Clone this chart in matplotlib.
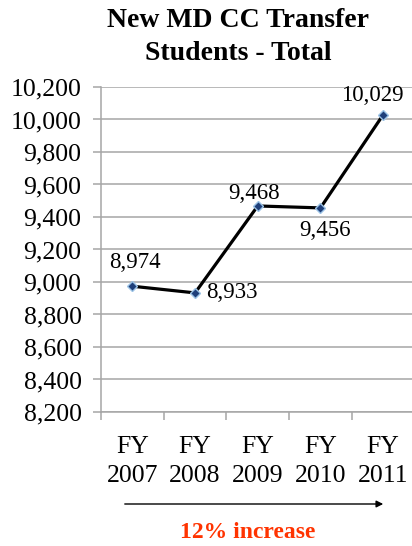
import matplotlib
matplotlib.use("Agg")
import matplotlib.pyplot as plt
from matplotlib.ticker import FuncFormatter, FixedLocator

categories = ["FY\n2007", "FY\n2008", "FY\n2009", "FY\n2010", "FY\n2011"]
values = [8974, 8933, 9468, 9456, 10029]
yticks = list(range(8200, 10201, 200))
title = "New MD CC Transfer\nStudents - Total"
note = "12% increase"
# label offsets in pixels (dx, dy)
label_offsets = [(3, 24), (37, 0), (-4, 12), (5, -23), (-11, 19)]

W, H = 412, 546
fig = plt.figure(figsize=(W / 100, H / 100), dpi=100)
serif = ["Liberation Serif", "DejaVu Serif"]

L, R, B, T = 101, 414.5, 412, 87
ax = fig.add_axes([L / W, 1 - B / H, (R - L) / W, (B - T) / H])
x = list(range(len(categories)))
ax.set_xlim(-0.5, len(categories) - 0.5)
ax.set_ylim(yticks[0], yticks[-1])

ax.plot(x, values, color="black", lw=2.3, zorder=3, solid_capstyle="round")
ax.plot(x, values, ls="none", marker="D", ms=5.5, mfc="#1F3F7A", mec="#9CC3E6", mew=1.0, zorder=4)

for xi, v, (dx, dy) in zip(x, values, label_offsets):
    ax.annotate(f"{v:,}", (xi, v), xytext=(dx, dy), textcoords="offset pixels",
                ha="center", va="center", fontsize=16.5, family=serif, color="black")

ax.yaxis.set_major_locator(FixedLocator(yticks))
ax.yaxis.set_major_formatter(FuncFormatter(lambda v, p: f"{int(v):,}"))
ax.grid(axis="y", color="#A6A6A6", lw=1.1)
ax.set_axisbelow(True)

ax.set_xticks(x)
ax.set_xticklabels(categories, fontsize=18.5, family=serif, linespacing=1.42)
ax.set_xticks([i - 0.5 for i in range(len(categories) + 1)], minor=True)
ax.tick_params(axis="x", which="major", length=0, pad=17)
ax.tick_params(axis="x", which="minor", length=6, color="#A6A6A6", width=1.1, direction="out")
ax.tick_params(axis="y", length=6, color="#A6A6A6", width=1.1, pad=8)
for lab in ax.get_yticklabels():
    lab.set_fontsize(18.5)
    lab.set_family(serif)

for s in ["top", "right"]:
    ax.spines[s].set_visible(False)
for s in ["left", "bottom"]:
    ax.spines[s].set_color("#A6A6A6")
    ax.spines[s].set_linewidth(1.1)

fig.text(238 / W, 1 - 37 / H, title, ha="center", va="center", fontsize=20,
         fontweight="bold", family=serif, linespacing=1.42)

fig.patches.append(matplotlib.patches.FancyArrowPatch(
    (122 / W, 1 - 504 / H), (386 / W, 1 - 504 / H), transform=fig.transFigure,
    arrowstyle="-|>", mutation_scale=10, color="black", lw=1.0))
fig.text(248 / W, 1 - 533 / H, note, ha="center", va="center", fontsize=17,
         fontweight="bold", family=serif, color="#FF3300")

fig.savefig("out.png", dpi=100)
